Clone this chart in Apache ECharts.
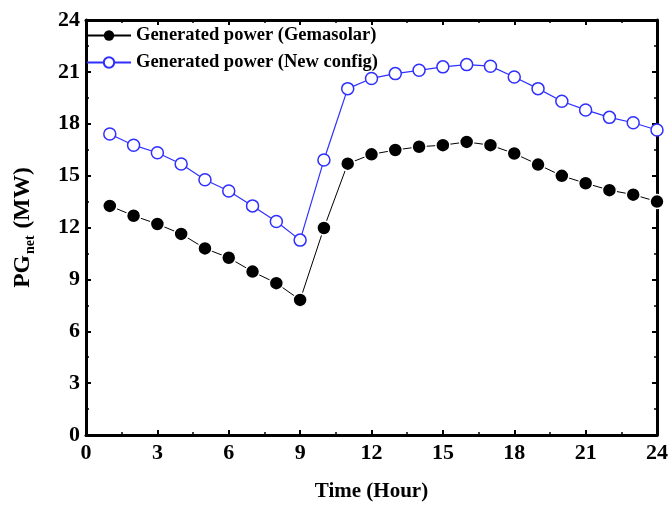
<!DOCTYPE html>
<html>
<head>
<meta charset="utf-8">
<script src="https://cdn.jsdelivr.net/npm/echarts@6/dist/echarts.min.js"></script>
<style>
  html, body { margin: 0; padding: 0; background: #fff; }
  #chart { width: 671px; height: 507px; }
</style>
</head>
<body>
<div id="chart"></div>
<script>
// Hourly net generated power (MW)
const hours = [1, 2, 3, 4, 5, 6, 7, 8, 9, 10, 11, 12, 13, 14, 15, 16, 17, 18, 19, 20, 21, 22, 23, 24];
const gemasolar = [13.25, 12.68, 12.2, 11.63, 10.79, 10.25, 9.45, 8.78, 7.81, 11.97, 15.69, 16.23,
                   16.48, 16.67, 16.76, 16.95, 16.76, 16.28, 15.64, 14.99, 14.56, 14.16, 13.9, 13.5];
const newConfig = [17.41, 16.76, 16.32, 15.67, 14.76, 14.11, 13.25, 12.35, 11.27, 15.9, 20.03, 20.62,
                   20.9, 21.09, 21.29, 21.42, 21.33, 20.7, 20.03, 19.3, 18.8, 18.37, 18.06, 17.64];
const seriesNames = ['Generated power (Gemasolar)', 'Generated power (New config)'];
const xTicks = { min: 0, max: 24, interval: 3 };
const yTicks = { min: 0, max: 24, interval: 3 };

const FONT = '"Liberation Serif", "DejaVu Serif", serif';
const BLUE = '#2f2fff';

const axisLine = { show: true, onZero: false, lineStyle: { color: '#000', width: 3 } };
const axisTick = { show: true, inside: true, length: 5, lineStyle: { color: '#000', width: 2 } };
const minorTick = { show: true, splitNumber: 2, length: 3, lineStyle: { color: '#000', width: 1.5 } };
const tickLabel = { color: '#000', fontFamily: FONT, fontWeight: 'bold', fontSize: 22 };

const chart = echarts.init(document.getElementById('chart'), null, { renderer: 'canvas' });

chart.setOption({
  backgroundColor: '#fff',
  animation: false,
  grid: { left: 86, right: 13, top: 20, bottom: 68 },
  legend: {
    orient: 'vertical',
    left: 86,
    top: 26,
    itemWidth: 44,
    itemHeight: 13,
    itemGap: 8,
    padding: 0,
    textStyle: { color: '#000', fontFamily: FONT, fontWeight: 'bold', fontSize: 18.5 },
    data: [
      { name: seriesNames[0], itemStyle: { borderWidth: 0 } },
      { name: seriesNames[1] }
    ]
  },
  xAxis: [
    {
      type: 'value', position: 'bottom',
      min: xTicks.min, max: xTicks.max, interval: xTicks.interval,
      name: 'Time (Hour)', nameLocation: 'middle', nameGap: 46,
      nameTextStyle: { color: '#000', fontFamily: FONT, fontWeight: 'bold', fontSize: 21 },
      axisLine, axisTick, minorTick,
      axisLabel: Object.assign({ margin: 7 }, tickLabel),
      splitLine: { show: false }
    },
    {
      type: 'value', position: 'top',
      min: xTicks.min, max: xTicks.max, interval: xTicks.interval,
      axisLine, axisTick, minorTick,
      axisLabel: { show: false },
      splitLine: { show: false }
    }
  ],
  yAxis: [
    {
      type: 'value', position: 'left',
      min: yTicks.min, max: yTicks.max, interval: yTicks.interval,
      name: '{a|PG}{b|net}{a| (MW)}', nameLocation: 'middle', nameGap: 49,
      nameRotate: 90,
      nameTextStyle: {
        color: '#000',
        rich: {
          a: { fontFamily: FONT, fontWeight: 'bold', fontSize: 23.5, color: '#000' },
          b: { fontFamily: FONT, fontWeight: 'bold', fontSize: 14, color: '#000', padding: [15, 1, 0, 1] }
        }
      },
      axisLine, axisTick, minorTick,
      axisLabel: Object.assign({ margin: 6 }, tickLabel),
      splitLine: { show: false }
    },
    {
      type: 'value', position: 'right',
      min: yTicks.min, max: yTicks.max, interval: yTicks.interval,
      axisLine, axisTick, minorTick,
      axisLabel: { show: false },
      splitLine: { show: false }
    }
  ],
  series: [
    {
      name: seriesNames[0],
      type: 'line',
      data: hours.map((h, i) => [h, gemasolar[i]]),
      symbol: 'circle',
      symbolSize: 14,
      itemStyle: { color: '#000', borderColor: '#fff', borderWidth: 1.5 },
      lineStyle: { color: '#000', width: 1 },
      z: 3
    },
    {
      name: seriesNames[1],
      type: 'line',
      data: hours.map((h, i) => [h, newConfig[i]]),
      symbol: 'circle',
      symbolSize: 12,
      showAllSymbol: true,
      itemStyle: { color: '#fff', borderColor: BLUE, borderWidth: 1.5 },
      lineStyle: { color: BLUE, width: 1.2 },
      z: 3
    }
  ]
});
</script>
</body>
</html>
